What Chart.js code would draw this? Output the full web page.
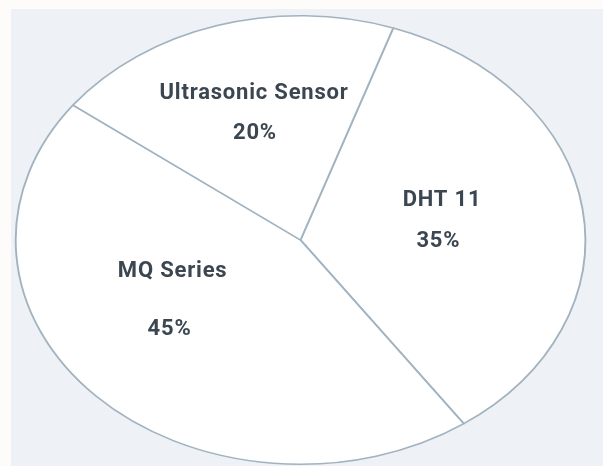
<!DOCTYPE html>
<html>
<head>
<meta charset="utf-8">
<script src="https://cdn.jsdelivr.net/npm/chart.js@4.4.0/dist/chart.umd.min.js"></script>
<style>
  html, body { margin: 0; padding: 0; background: #fdfcfb; }
  #wrap { position: relative; width: 603px; height: 466px; overflow: hidden; }
  #bg { position: absolute; left: 11px; top: 9px; right: 0; bottom: 0; background: #eef2f6; }
  #pie { position: absolute; left: 0; top: 0; }
</style>
</head>
<body>
<div id="wrap">
  <div id="bg"></div>
  <canvas id="pie" width="603" height="466"></canvas>
</div>
<script>
// slice data, clockwise from the top-right boundary
const sensorNames = ['DHT 11', 'MQ Series', 'Ultrasonic Sensor'];
const sensorShares = [35, 45, 20];

// stretch the round pie into the wide ellipse of the picture
const ellipsePlugin = {
    id: 'ellipse',
    beforeDatasetsDraw(chart, args, opts) {
        const arc = chart.getDatasetMeta(0).data[0];
        const ctx = chart.ctx;
        ctx.save();
        ctx.translate(arc.x, arc.y);
        ctx.scale(opts.scaleX, 1);
        ctx.translate(-arc.x, -arc.y);
    },
    afterDatasetsDraw(chart) {
        chart.ctx.restore();
    }
};

// name + percentage inside each slice, placed in ellipse-relative coords
const sliceLabels = {
    id: 'sliceLabels',
    afterDraw(chart, args, opts) {
        const meta = chart.getDatasetMeta(0);
        const ctx = chart.ctx;
        const ds = chart.data.datasets[0];
        ctx.save();
        ctx.fillStyle = opts.color;
        ctx.font = opts.font;
        ctx.letterSpacing = opts.spacing;
        ctx.textAlign = 'center';
        ctx.textBaseline = 'middle';
        meta.data.forEach((arc, i) => {
            const rx = arc.outerRadius * chart.options.plugins.ellipse.scaleX;
            const ry = arc.outerRadius;
            const p = opts.spots[i];
            ctx.fillText(chart.data.labels[i], arc.x + p.name[0] * rx, arc.y + p.name[1] * ry);
            ctx.fillText(ds.data[i] + '%', arc.x + p.pct[0] * rx, arc.y + p.pct[1] * ry);
        });
        ctx.restore();
    }
};

new Chart(document.getElementById('pie'), {
    type: 'pie',
    data: {
        labels: sensorNames,
        datasets: [{
            data: sensorShares,
            backgroundColor: '#ffffff',
            borderColor: '#a2b3c0',
            borderWidth: 1.5,
            hoverOffset: 0
        }]
    },
    options: {
        responsive: false,
        animation: false,
        rotation: 19,
        layout: { padding: { top: 15, bottom: 1, left: 0, right: 2 } },
        events: [],
        plugins: {
            legend: { display: false },
            tooltip: { enabled: false },
            ellipse: { scaleX: 1.27 },
            sliceLabels: {
                color: '#3b4651',
                font: 'bold 22px Roboto, "Noto Sans", sans-serif',
                spacing: '0.8px',
                spots: [
                    { name: [0.497, -0.178], pct: [0.484, 0.008] },
                    { name: [-0.449, 0.141], pct: [-0.46, 0.401] },
                    { name: [-0.163, -0.655], pct: [-0.160, -0.477] }
                ]
            }
        }
    },
    plugins: [ellipsePlugin, sliceLabels]
});
</script>
</body>
</html>
